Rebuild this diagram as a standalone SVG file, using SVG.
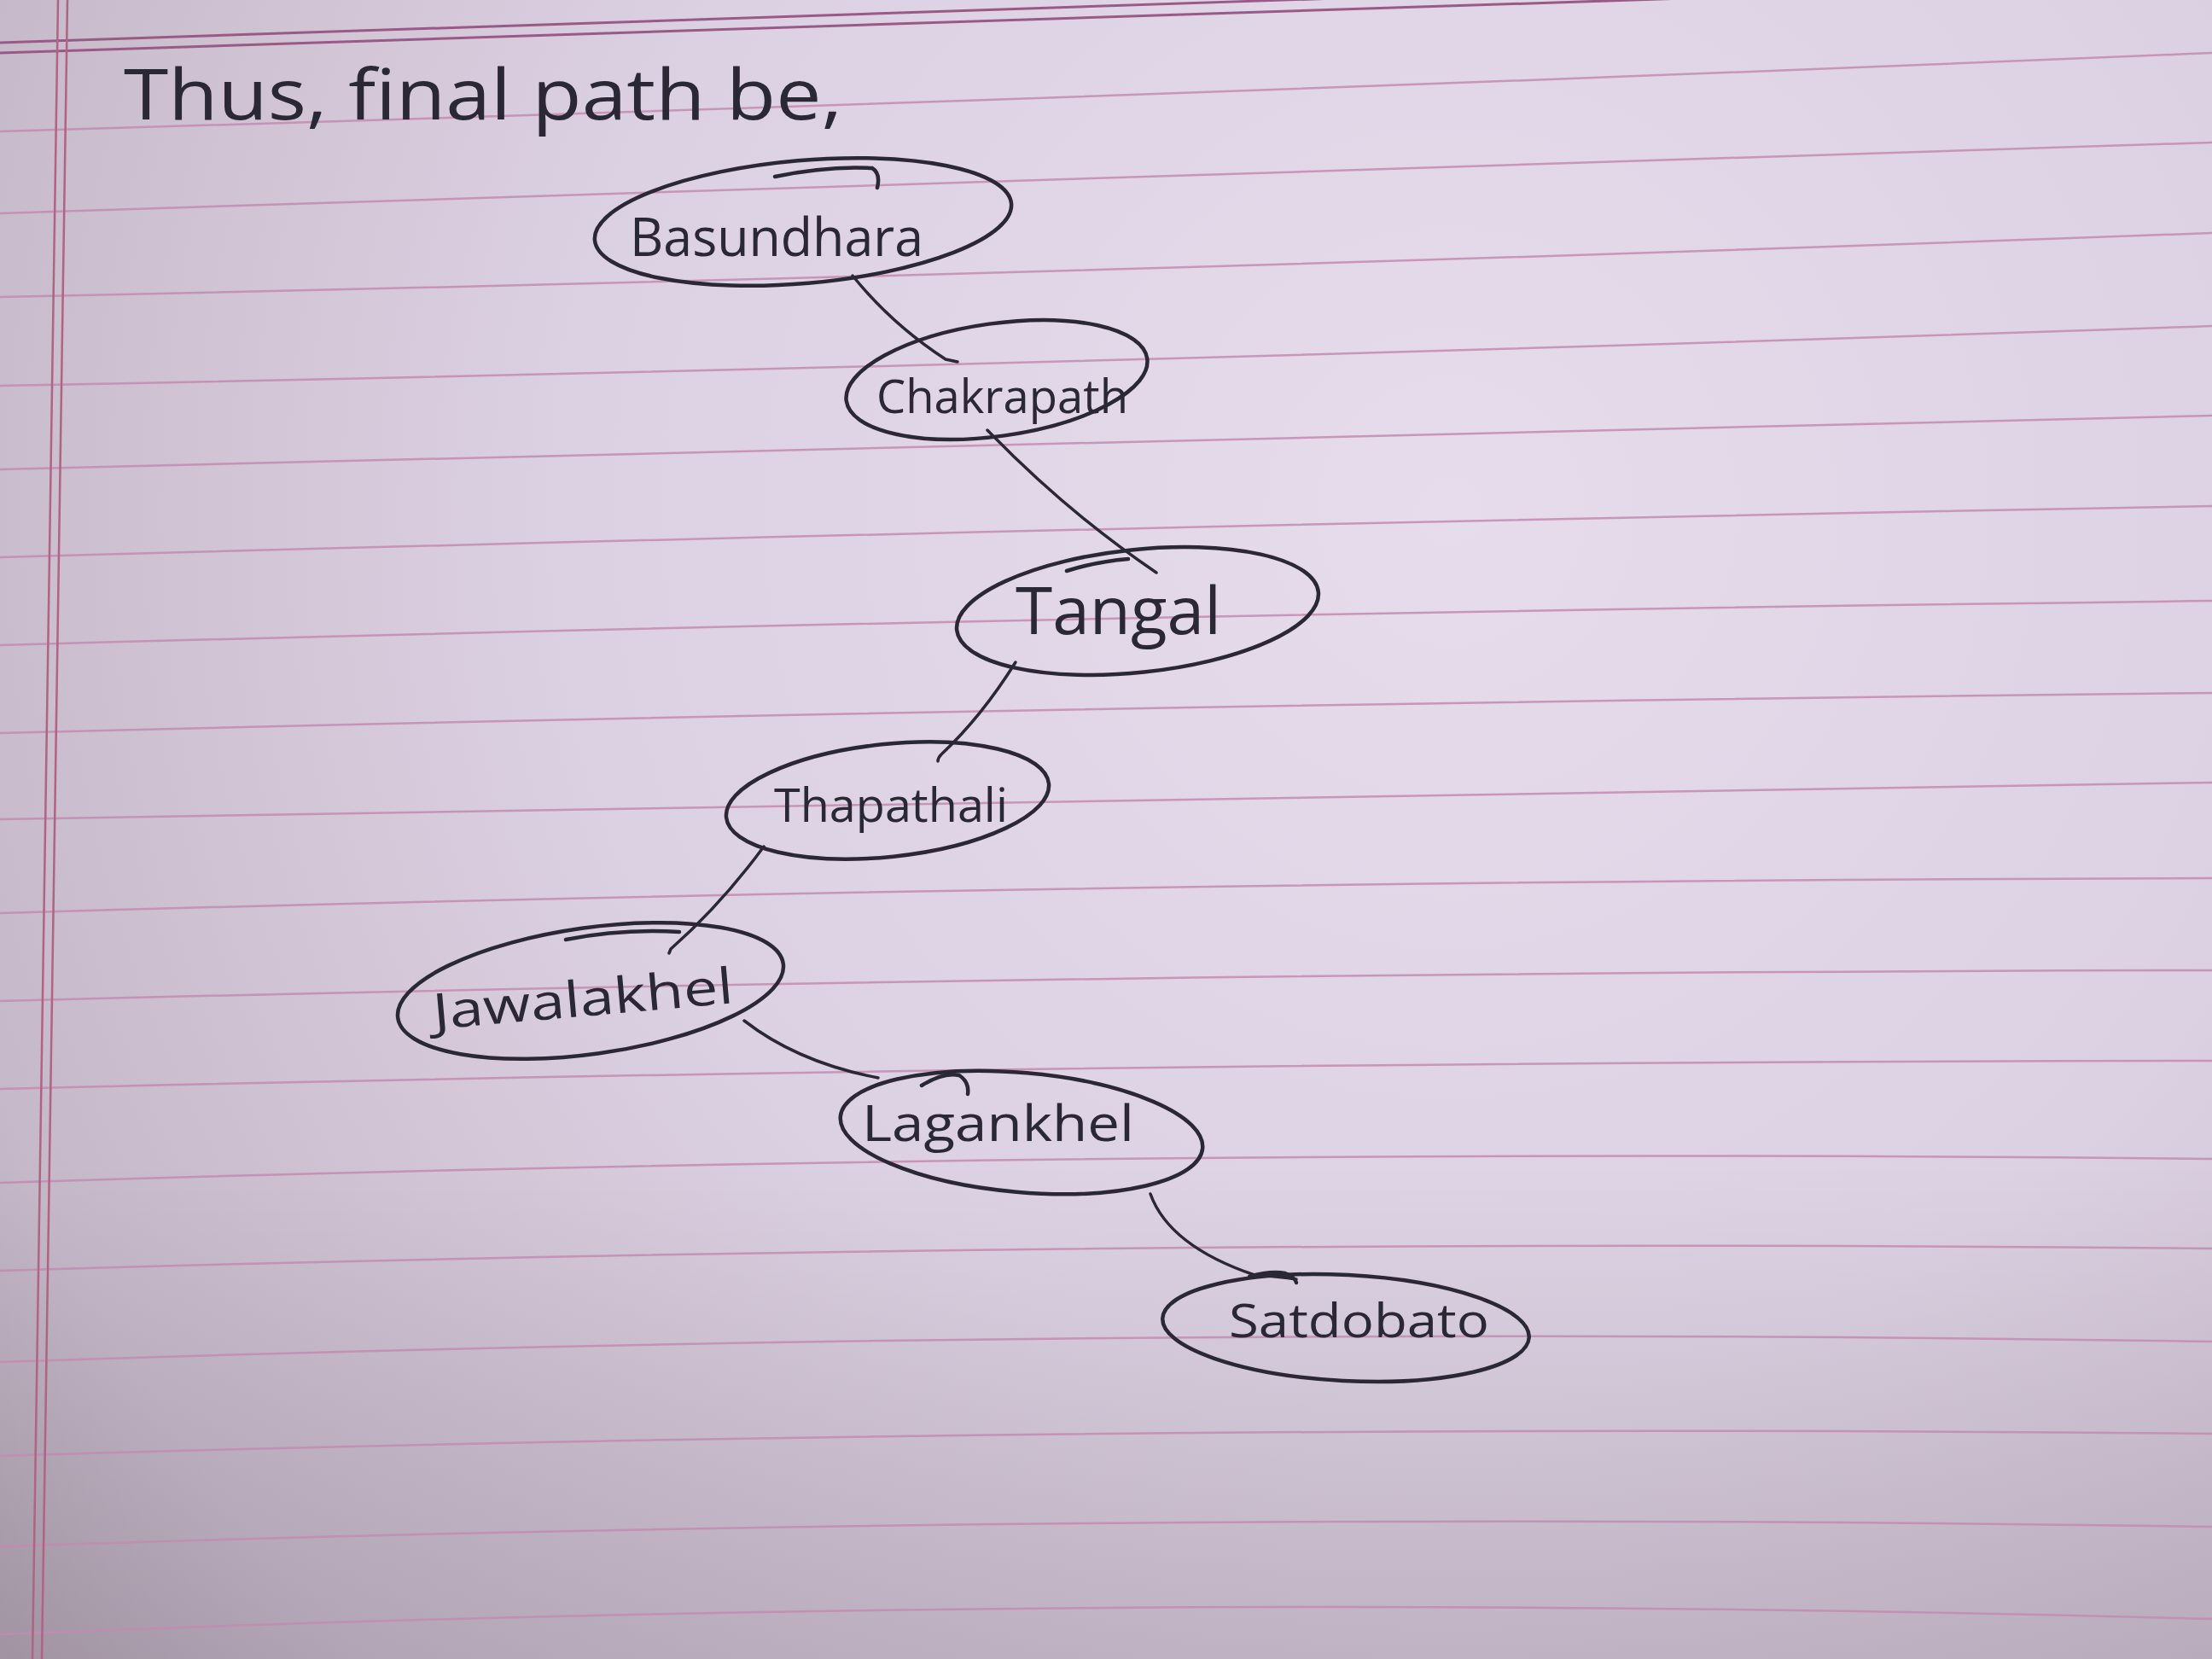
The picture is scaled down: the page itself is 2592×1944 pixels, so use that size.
<svg xmlns="http://www.w3.org/2000/svg" width="2592" height="1944" viewBox="0 0 2592 1944">
<defs>
<radialGradient id="paper" cx="1700" cy="600" r="2300" gradientUnits="userSpaceOnUse">
<stop offset="0" stop-color="#e6dcec"/>
<stop offset="0.45" stop-color="#dcd1e2"/>
<stop offset="0.8" stop-color="#c5b8c9"/>
<stop offset="1" stop-color="#a99ba9"/>
</radialGradient>
<linearGradient id="shade" x1="0" y1="0" x2="0" y2="1">
<stop offset="0" stop-color="#000" stop-opacity="0"/>
<stop offset="0.7" stop-color="#000" stop-opacity="0"/>
<stop offset="1" stop-color="#2a1c2a" stop-opacity="0.12"/>
</linearGradient>
<style>
.rule{fill:none;stroke:#c48ab0;stroke-width:2.5;opacity:0.85}
.head{fill:none;stroke:#9a5a86;stroke-width:3}
.margin{fill:none;stroke:#b06382;stroke-width:2.5}
.node ellipse,.node .pen{fill:none;stroke:#2b2836;stroke-width:4.5;stroke-linecap:round}
.node text{font-family:"Open Sans","DejaVu Sans",sans-serif;fill:#2b2836;font-weight:400}
.edge{fill:none;stroke:#2b2836;stroke-width:3.5;stroke-linecap:round;stroke-linejoin:round}
.title{font-family:"Open Sans","DejaVu Sans",sans-serif;fill:#2b2836;font-size:82px}
</style>
</defs>
<rect x="0" y="0" width="2592" height="1944" fill="url(#paper)"/>
<rect x="0" y="0" width="2592" height="1944" fill="url(#shade)"/>
<g id="paper-lines">
<path class="head" d="M0,50 Q1300,10 2592,-36"/>
<path class="head" d="M0,62 Q1300,23 2592,-22"/>
<path class="rule" d="M0,154 Q1300,116 2592,62"/>
<path class="rule" d="M0,250 Q1300,213 2592,167"/>
<path class="rule" d="M0,348 Q1300,321 2592,273"/>
<path class="rule" d="M0,452 Q1300,427 2592,382"/>
<path class="rule" d="M0,550 Q1300,523 2592,487"/>
<path class="rule" d="M0,653 Q1300,617 2592,593"/>
<path class="rule" d="M0,756 Q1300,720 2592,704"/>
<path class="rule" d="M0,859 Q1300,826 2592,812"/>
<path class="rule" d="M0,960 Q1300,933 2592,917"/>
<path class="rule" d="M0,1070 Q1300,1032 2592,1029"/>
<path class="rule" d="M0,1173 Q1300,1139 2592,1137"/>
<path class="rule" d="M0,1276 Q1300,1244 2592,1243"/>
<path class="rule" d="M0,1386 Q1300,1344 2592,1358"/>
<path class="rule" d="M0,1489 Q1300,1450 2592,1463"/>
<path class="rule" d="M0,1596 Q1300,1552 2592,1572"/>
<path class="rule" d="M0,1706 Q1300,1667 2592,1680"/>
<path class="rule" d="M0,1812 Q1300,1769 2592,1789"/>
<path class="rule" d="M0,1915 Q1300,1862 2592,1897"/>
<path class="margin" d="M68,0 L38,1944"/>
<path class="margin" d="M79,0 L49,1944"/>
</g>
<text class="title" x="145" y="140" textLength="842" lengthAdjust="spacingAndGlyphs">Thus, final path be,</text>
<g id="connectors">
<path class="edge" d="M999,323 Q1045,380 1108,421 l14,3"/>
<path class="edge" d="M1157,504 Q1250,600 1355,671"/>
<path class="edge" d="M1190,776 Q1150,840 1103,884 q-4,4 -4,8"/>
<path class="edge" d="M895,992 Q845,1060 786,1112 l-2,5"/>
<path class="edge" d="M872,1196 Q935,1245 1029,1263"/>
<path class="edge" d="M1348,1399 Q1370,1460 1470,1494 q30,2 49,5"/>
</g>
<g id="node-basundhara" class="node">
<ellipse cx="941" cy="260" rx="245" ry="72" transform="rotate(-5 941 260)"/>
<path class="pen" d="M908,207 Q970,194 1022,197 Q1032,203 1028,220"/>
<text x="738" y="300" font-size="62" textLength="344" lengthAdjust="spacingAndGlyphs">Basundhara</text>
</g>
<g id="node-chakrapath" class="node">
<ellipse cx="1168" cy="445" rx="178" ry="66" transform="rotate(-8 1168 445)"/>
<text x="1027" y="484" font-size="55" textLength="295" lengthAdjust="spacingAndGlyphs">Chakrapath</text>
</g>
<g id="node-tangal" class="node">
<ellipse cx="1333" cy="716" rx="213" ry="72" transform="rotate(-6 1333 716)"/>
<path class="pen" d="M1250,669 Q1285,658 1322,655"/>
<text x="1190" y="743" font-size="76" textLength="241" lengthAdjust="spacingAndGlyphs">Tangal</text>
</g>
<g id="node-thapathali" class="node">
<ellipse cx="1040" cy="938" rx="190" ry="66" transform="rotate(-6 1040 938)"/>
<text x="907" y="963" font-size="54" textLength="274" lengthAdjust="spacingAndGlyphs">Thapathali</text>
</g>
<g id="node-jawalakhel" class="node">
<ellipse cx="692" cy="1161" rx="228" ry="74" transform="rotate(-8 692 1161)"/>
<path class="pen" d="M663,1101 Q730,1088 796,1092"/>
<text x="509" y="1206" font-size="58" textLength="353" lengthAdjust="spacingAndGlyphs" transform="rotate(-5 509 1206)">Jawalakhel</text>
</g>
<g id="node-lagankhel" class="node">
<ellipse cx="1197" cy="1327" rx="213" ry="70" transform="rotate(5 1197 1327)"/>
<path class="pen" d="M1080,1272 Q1105,1256 1124,1260 Q1136,1268 1134,1282"/>
<text x="1010" y="1337" font-size="58" textLength="319" lengthAdjust="spacingAndGlyphs">Lagankhel</text>
</g>
<g id="node-satdobato" class="node">
<ellipse cx="1577" cy="1556" rx="215" ry="62" transform="rotate(3 1577 1556)"/>
<path class="pen" d="M1464,1496 Q1488,1489 1506,1492 Q1517,1496 1519,1503"/>
<text x="1440" y="1567" font-size="55" textLength="305" lengthAdjust="spacingAndGlyphs">Satdobato</text>
</g>
</svg>
